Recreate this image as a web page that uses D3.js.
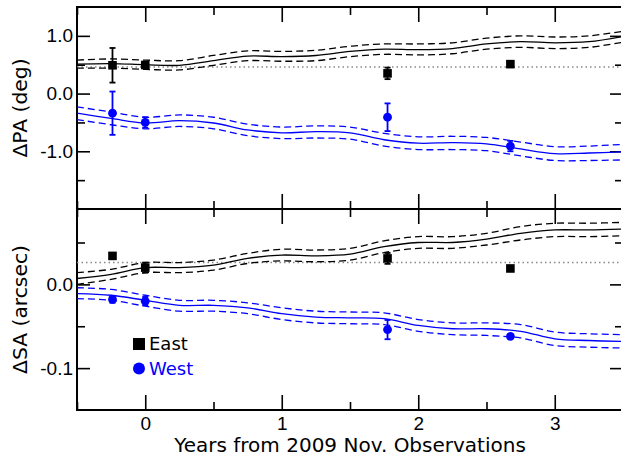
<!DOCTYPE html>
<html>
<head>
<meta charset="utf-8">
<script src="https://cdn.jsdelivr.net/npm/d3@7"></script>
<style>
  body { margin: 0; background: #fff; }
  svg { display: block; font-family: "DejaVu Sans", sans-serif; }
  .frame { fill: none; stroke: #000; stroke-width: 2; }
  .tick line { stroke: #000; stroke-width: 1.6; }
  .domain { display: none; }
</style>
</head>
<body>
<div id="chart"></div>
<script>
// model curve sample times (years) and values
var fitYears = [-0.5, -0.25, 0, 0.25, 0.5, 0.75, 1, 1.25, 1.5, 1.75, 2, 2.25, 2.5, 2.75, 3, 3.25, 3.5];

var paEastFit = [0.51, 0.52, 0.50, 0.49, 0.57, 0.65, 0.64, 0.66, 0.73, 0.77, 0.76, 0.78, 0.86, 0.90, 0.88, 0.90, 0.99];
var paEastHi  = [0.58, 0.60, 0.58, 0.57, 0.66, 0.74, 0.73, 0.75, 0.82, 0.86, 0.86, 0.88, 0.96, 1.00, 0.98, 1.00, 1.08];
var paEastLo  = [0.44, 0.44, 0.42, 0.41, 0.49, 0.57, 0.56, 0.57, 0.64, 0.68, 0.67, 0.69, 0.77, 0.80, 0.78, 0.80, 0.89];

var paWestFit = [-0.34, -0.43, -0.51, -0.47, -0.51, -0.63, -0.68, -0.66, -0.68, -0.80, -0.86, -0.85, -0.87, -0.96, -1.04, -1.03, -1.01];
var paWestHi  = [-0.23, -0.32, -0.41, -0.37, -0.41, -0.53, -0.58, -0.56, -0.58, -0.69, -0.75, -0.74, -0.76, -0.84, -0.92, -0.91, -0.88];
var paWestLo  = [-0.45, -0.54, -0.61, -0.57, -0.61, -0.73, -0.78, -0.77, -0.79, -0.91, -0.97, -0.97, -0.99, -1.08, -1.16, -1.16, -1.15];

var saEastFit = [0.007, 0.012, 0.020, 0.020, 0.023, 0.031, 0.035, 0.034, 0.036, 0.045, 0.050, 0.050, 0.054, 0.061, 0.065, 0.065, 0.066];
var saEastHi  = [0.014, 0.018, 0.026, 0.026, 0.029, 0.037, 0.042, 0.041, 0.043, 0.052, 0.057, 0.057, 0.061, 0.069, 0.073, 0.073, 0.074];
var saEastLo  = [0.000, 0.006, 0.014, 0.014, 0.017, 0.025, 0.028, 0.027, 0.029, 0.038, 0.043, 0.043, 0.047, 0.053, 0.057, 0.057, 0.058];

var saWestFit = [-0.011, -0.013, -0.019, -0.025, -0.025, -0.028, -0.035, -0.039, -0.040, -0.041, -0.049, -0.053, -0.053, -0.056, -0.065, -0.067, -0.068];
var saWestHi  = [-0.004, -0.006, -0.013, -0.019, -0.019, -0.022, -0.028, -0.032, -0.033, -0.034, -0.042, -0.046, -0.046, -0.048, -0.057, -0.059, -0.060];
var saWestLo  = [-0.017, -0.019, -0.026, -0.032, -0.032, -0.035, -0.042, -0.046, -0.047, -0.048, -0.056, -0.060, -0.061, -0.064, -0.073, -0.075, -0.076];

// observations
var obsYears  = [-0.24, 0, 1.775, 2.675];
var paEast    = [0.49, 0.495, 0.35, 0.51];
var paEastErr = [0.30, 0.05, 0.10, 0.03];
var paWest    = [-0.34, -0.50, -0.41, -0.91];
var paWestErr = [0.375, 0.09, 0.24, 0.09];
var saEast    = [0.034, 0.020, 0.031, 0.019];
var saEastErr = [0.002, 0.006, 0.0065, 0.001];
var saWest    = [-0.018, -0.020, -0.054, -0.062];
var saWestErr = [0.004, 0.005, 0.0115, 0.002];

var paRef = 0.46;
var saRef = 0.026;

var xMajor = [0, 1, 2, 3];
var xMinor = [-0.5, 0.5, 1.5, 2.5, 3.5];
var paMajor = [-1.0, 0.0, 1.0];
var paMinor = [-1.5, -0.5, 0.5];
var saMajor = [-0.1, 0.0];
var saMinor = [-0.05, 0.05];

var W = 621, H = 459;
var L = 77, R = 623;
var svg = d3.select("#chart").append("svg").attr("width", W).attr("height", H);

var x = d3.scaleLinear().domain([-0.5, 3.5]).range([L, R]);
var yPA = d3.scaleLinear().domain([-2, 1.5]).range([209, 7]);
var ySA = d3.scaleLinear().domain([-0.15, 0.09]).range([410, 209]);

var black = "#000", blue = "#0000ff";

// plain hyphen for negatives, like the original
var fmt1 = function (d) { return d3.format(".1f")(d).replace("\u2212", "-"); };

function panel(y, id, major, minor, fmt, label, showX) {
  var top = y.range()[1], bot = y.range()[0];

  svg.append("clipPath").attr("id", id)
    .append("rect").attr("x", L).attr("y", top).attr("width", R - L).attr("height", bot - top);

  // x ticks, top and bottom spines
  [[d3.axisTop, top], [d3.axisBottom, bot]].forEach(function (a) {
    svg.append("g").attr("transform", "translate(0," + a[1] + ")")
      .call(a[0](x).tickValues(xMinor).tickSize(-8).tickFormat(""));
    var g = svg.append("g").attr("transform", "translate(0," + a[1] + ")")
      .call(a[0](x).tickValues(xMajor).tickSize(-15).tickPadding(7)
        .tickFormat(a[0] === d3.axisBottom && showX ? d3.format("d") : ""));
    g.selectAll("text").attr("font-size", 19).attr("fill", "#000");
  });

  // y ticks, left and right
  var gl = svg.append("g").attr("transform", "translate(" + L + ",0)")
    .call(d3.axisLeft(y).tickValues(major).tickSize(-13).tickPadding(4).tickFormat(fmt));
  gl.selectAll("text").attr("font-size", 19).attr("fill", "#000");
  svg.append("g").attr("transform", "translate(" + L + ",0)")
    .call(d3.axisLeft(y).tickValues(minor).tickSize(-8).tickFormat(""));
  svg.append("g").attr("transform", "translate(" + R + ",0)")
    .call(d3.axisRight(y).tickValues(major).tickSize(-13).tickFormat(""));
  svg.append("g").attr("transform", "translate(" + R + ",0)")
    .call(d3.axisRight(y).tickValues(minor).tickSize(-8).tickFormat(""));

  svg.append("rect").attr("class", "frame")
    .attr("x", L).attr("y", top).attr("width", R - L).attr("height", bot - top);

  svg.append("text")
    .attr("transform", "translate(27," + ((top + bot) / 2) + ") rotate(-90)")
    .attr("text-anchor", "middle").attr("font-size", 20.3)
    .text(label);
}

function fitLines(y, id, fit, hi, lo, col) {
  var g = svg.append("g").attr("clip-path", "url(#" + id + ")");
  [[hi, "7,4"], [lo, "7,4"], [fit, null]].forEach(function (s) {
    var line = d3.line()
      .x(function (d, i) { return x(fitYears[i]); })
      .y(function (d) { return y(d); })
      .curve(d3.curveCatmullRom.alpha(0.5));
    g.append("path").attr("d", line(s[0]))
      .attr("fill", "none").attr("stroke", col).attr("stroke-width", 1.3)
      .attr("stroke-dasharray", s[1]);
  });
}

function refLine(y, id, v) {
  svg.append("g").attr("clip-path", "url(#" + id + ")")
    .append("line").attr("x1", L).attr("x2", R).attr("y1", y(v)).attr("y2", y(v))
    .attr("stroke", "#888").attr("stroke-width", 1.5).attr("stroke-dasharray", "1.5,3");
}

function points(y, vals, errs, col, shape) {
  var g = svg.append("g");
  var pts = obsYears.map(function (t, i) { return { t: t, v: vals[i], e: errs[i] }; });
  g.selectAll("line.bar").data(pts).enter().append("line").attr("class", "bar")
    .attr("x1", function (d) { return x(d.t); }).attr("x2", function (d) { return x(d.t); })
    .attr("y1", function (d) { return y(d.v - d.e); }).attr("y2", function (d) { return y(d.v + d.e); })
    .attr("stroke", col).attr("stroke-width", 1.8);
  [["capLo", -1], ["capHi", 1]].forEach(function (c) {
    g.selectAll("line." + c[0]).data(pts).enter().append("line").attr("class", c[0])
      .attr("x1", function (d) { return x(d.t) - 3; }).attr("x2", function (d) { return x(d.t) + 3; })
      .attr("y1", function (d) { return y(d.v + c[1] * d.e); })
      .attr("y2", function (d) { return y(d.v + c[1] * d.e); })
      .attr("stroke", col).attr("stroke-width", 1.8);
  });
  if (shape === "square") {
    g.selectAll("rect").data(pts).enter().append("rect")
      .attr("x", function (d) { return x(d.t) - 4.3; }).attr("y", function (d) { return y(d.v) - 4.3; })
      .attr("width", 8.6).attr("height", 8.6).attr("fill", col);
  } else {
    g.selectAll("circle").data(pts).enter().append("circle")
      .attr("cx", function (d) { return x(d.t); }).attr("cy", function (d) { return y(d.v); })
      .attr("r", 4.4).attr("fill", col);
  }
}

// top panel: delta PA
panel(yPA, "clipPA", paMajor, paMinor, fmt1, "\u0394PA (deg)", false);
refLine(yPA, "clipPA", paRef);
fitLines(yPA, "clipPA", paEastFit, paEastHi, paEastLo, black);
fitLines(yPA, "clipPA", paWestFit, paWestHi, paWestLo, blue);
points(yPA, paEast, paEastErr, black, "square");
points(yPA, paWest, paWestErr, blue, "circle");

// bottom panel: delta SA
panel(ySA, "clipSA", saMajor, saMinor, fmt1, "\u0394SA (arcsec)", true);
refLine(ySA, "clipSA", saRef);
fitLines(ySA, "clipSA", saEastFit, saEastHi, saEastLo, black);
fitLines(ySA, "clipSA", saWestFit, saWestHi, saWestLo, blue);
points(ySA, saEast, saEastErr, black, "square");
points(ySA, saWest, saWestErr, blue, "circle");

// x label
svg.append("text").attr("x", 350).attr("y", 452).attr("text-anchor", "middle")
  .attr("font-size", 20).text("Years from 2009 Nov. Observations");

// legend
var leg = svg.append("g");
leg.append("rect").attr("x", 133).attr("y", 338).attr("width", 12).attr("height", 12).attr("fill", black);
leg.append("text").attr("x", 149).attr("y", 350).attr("font-size", 18).attr("fill", black).text("East");
leg.append("circle").attr("cx", 139).attr("cy", 368.5).attr("r", 6).attr("fill", blue);
leg.append("text").attr("x", 149).attr("y", 375).attr("font-size", 18).attr("fill", blue).text("West");
</script>
</body>
</html>
